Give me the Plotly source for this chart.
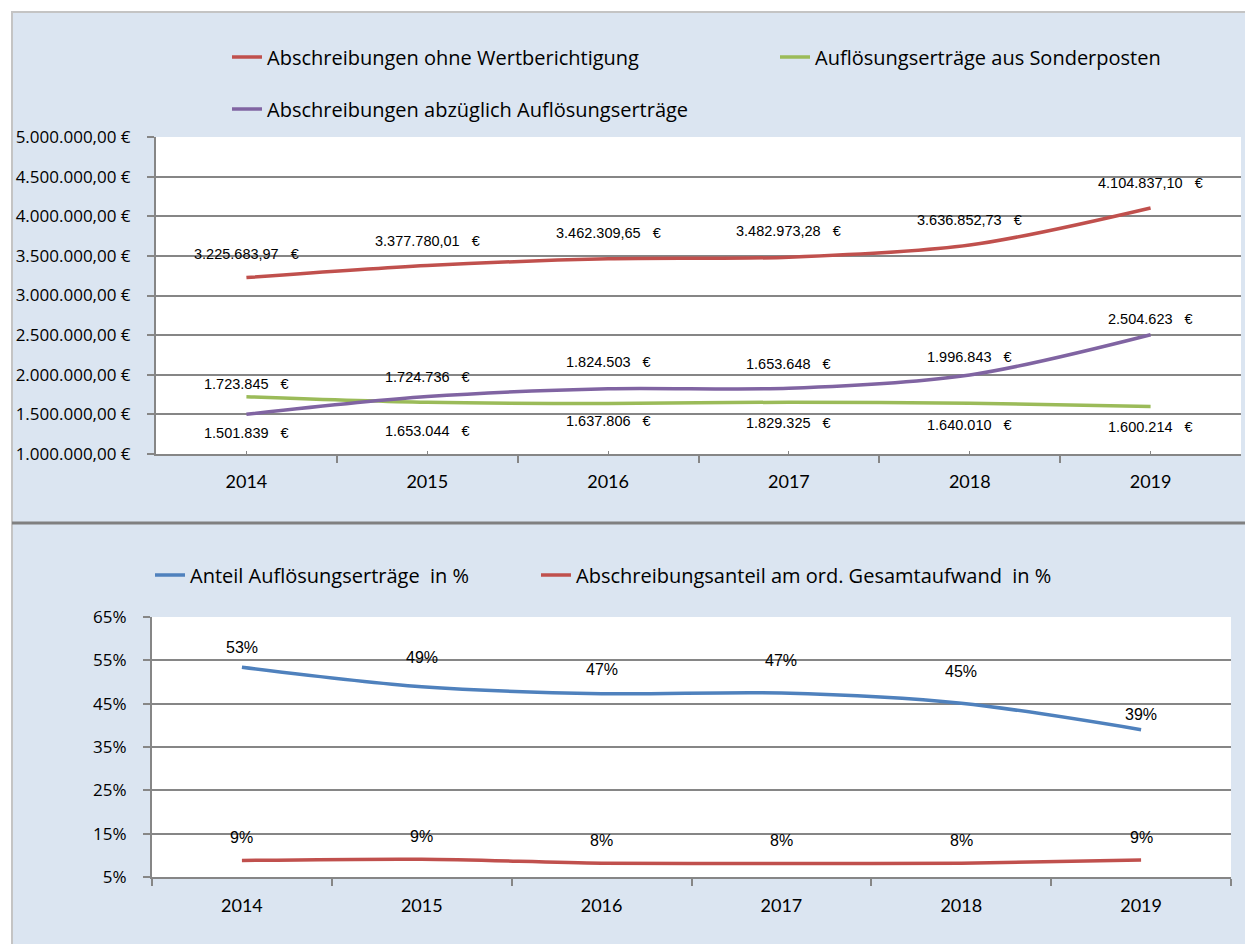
import plotly.graph_objects as go

# ---------------- data ----------------
years = ["2014", "2015", "2016", "2017", "2018", "2019"]

abschreibungen = [3225683.97, 3377780.01, 3462309.65, 3482973.28, 3636852.73, 4104837.10]
aufloesung = [1723845, 1653044, 1637806, 1653648, 1640010, 1600214]
abzueglich = [1501839, 1724736, 1824503, 1829325, 1996843, 2504623]

anteil_aufloesung = [53.4, 48.9, 47.3, 47.45, 45.1, 39.0]
anteil_abschreibung = [8.8, 9.1, 8.2, 8.1, 8.2, 8.9]

names_top = ["Abschreibungen ohne Wertberichtigung",
             "Auflösungserträge aus Sonderposten",
             "Abschreibungen abzüglich Auflösungserträge"]
names_bottom = ["Anteil Auflösungserträge  in %",
                "Abschreibungsanteil am ord. Gesamtaufwand  in %"]

# ---------------- styles ----------------
W, H = 1253, 944
OFF = 8  # page body margin
RED, GREEN, PURPLE, BLUE = "#C0504D", "#9BBB59", "#8064A2", "#4F81BD"
BG = "#DBE5F1"
GRID = "#868686"
TICKFONT = "Open Sans"
XFONT = "Lato"
LBLFONT = "Liberation Sans"


def px(sx):
    return (sx - OFF) / W


def py(sy):
    return 1 - (sy - OFF) / H


# label vertical offsets (px) as placed in the reference
off_red = [24, 25, 26, 26, 25, 25]
off_green = [13, -29, -18, 38, -22, -21]
off_purple = [-19, 20, 27, -35, 18, 16]
off_blue = [20, 29, 24, 33, 32, 15]
off_red2 = [23, 23, 23, 23, 23, 23]

NB = "\u00a0"


def de_num(v, dec):
    s = f"{v:,.{dec}f}"
    return s.replace(",", "#").replace(".", ",").replace("#", ".")


xs = list(range(len(years)))

fig = go.Figure()

line_w = 3.5
sm = 0.9
fig.add_trace(go.Scatter(x=xs, y=abschreibungen, name=names_top[0], mode="lines",
                         line=dict(color=RED, width=line_w, shape="spline", smoothing=sm),
                         xaxis="x", yaxis="y", legend="legend"))
fig.add_trace(go.Scatter(x=xs, y=aufloesung, name=names_top[1], mode="lines",
                         line=dict(color=GREEN, width=line_w, shape="spline", smoothing=sm),
                         xaxis="x", yaxis="y", legend="legend2"))
fig.add_trace(go.Scatter(x=xs, y=abzueglich, name=names_top[2], mode="lines",
                         line=dict(color=PURPLE, width=line_w, shape="spline", smoothing=sm),
                         xaxis="x", yaxis="y", legend="legend3"))

fig.add_trace(go.Scatter(x=xs, y=anteil_aufloesung, name=names_bottom[0], mode="lines",
                         line=dict(color=BLUE, width=line_w, shape="spline", smoothing=sm),
                         xaxis="x2", yaxis="y2", legend="legend4"))
fig.add_trace(go.Scatter(x=xs, y=anteil_abschreibung, name=names_bottom[1], mode="lines",
                         line=dict(color=RED, width=line_w, shape="spline", smoothing=sm),
                         xaxis="x2", yaxis="y2", legend="legend5"))

annotations = []
lblfont_top = dict(family=LBLFONT, size=14.5, color="#000000")
lblfont_bot = dict(family=LBLFONT, size=16, color="#000000")
for i in xs:
    annotations.append(dict(x=i, y=abschreibungen[i], xref="x", yref="y",
                            text=de_num(abschreibungen[i], 2) + NB * 3 + "€",
                            showarrow=False, yshift=off_red[i], font=lblfont_top))
    annotations.append(dict(x=i, y=aufloesung[i], xref="x", yref="y",
                            text=de_num(aufloesung[i], 0) + NB * 3 + "€",
                            showarrow=False, yshift=off_green[i], font=lblfont_top))
    annotations.append(dict(x=i, y=abzueglich[i], xref="x", yref="y",
                            text=de_num(abzueglich[i], 0) + NB * 3 + "€",
                            showarrow=False, yshift=off_purple[i], font=lblfont_top))
    annotations.append(dict(x=i, y=anteil_aufloesung[i], xref="x2", yref="y2",
                            text=f"{round(anteil_aufloesung[i]):d}%",
                            showarrow=False, yshift=off_blue[i], font=lblfont_bot))
    annotations.append(dict(x=i, y=anteil_abschreibung[i], xref="x2", yref="y2",
                            text=f"{round(anteil_abschreibung[i]):d}%",
                            showarrow=False, yshift=off_red2[i], font=lblfont_bot))

# frame shapes
shapes = [
    dict(type="rect", xref="paper", yref="paper", x0=0, x1=1, y0=py(11), y1=1,
         fillcolor="white", line=dict(width=0), layer="above"),
    dict(type="rect", xref="paper", yref="paper", x0=0, x1=px(11), y0=0, y1=1,
         fillcolor="white", line=dict(width=0), layer="above"),
    dict(type="line", xref="paper", yref="paper", x0=px(12), x1=px(12), y0=0, y1=py(11),
         line=dict(color="#C4C4C4", width=2), layer="above"),
    dict(type="line", xref="paper", yref="paper", x0=px(11), x1=1, y0=py(12), y1=py(12),
         line=dict(color="#C4C4C4", width=2), layer="above"),
    dict(type="line", xref="paper", yref="paper", x0=px(12), x1=1, y0=py(523), y1=py(523),
         line=dict(color="#808080", width=3), layer="above"),
]

xaxis_common = dict(
    tickmode="array", tickvals=xs, ticktext=years, range=[-0.5, 5.5],
    showgrid=False, zeroline=False, showline=True, linecolor=GRID, linewidth=2,
    tickfont=dict(family=XFONT, size=18, color="#000000"), automargin=False,
    minor=dict(tick0=-0.5, dtick=1, ticks="outside", ticklen=7, tickwidth=2, tickcolor=GRID),
    fixedrange=True,
)
yaxis_common = dict(
    showgrid=True, gridcolor=GRID, gridwidth=1.5, zeroline=False,
    showline=True, linecolor=GRID, linewidth=2, ticks="outside", ticklen=7,
    tickwidth=2, tickcolor=GRID, ticklabelstandoff=13, automargin=False,
    tickfont=dict(family=TICKFONT, size=17, color="#000000"), fixedrange=True,
)

legfont = dict(family=TICKFONT, size=20, color="#000000")


def leg(sx, sy):
    return dict(orientation="h", x=px(sx), xanchor="left", y=py(sy), yanchor="middle",
                bgcolor="rgba(0,0,0,0)", borderwidth=0, font=legfont)


fig.update_layout(
    width=W, height=H, autosize=False,
    margin=dict(l=0, r=0, t=0, b=0, autoexpand=False),
    paper_bgcolor=BG, plot_bgcolor="white",
    separators=",.",
    showlegend=True,
    xaxis=dict(domain=[px(156), px(1241)], anchor="y", ticks="inside", ticklen=3, tickwidth=1,
               tickcolor=GRID, ticklabelstandoff=10, **xaxis_common),
    yaxis=dict(domain=[py(454), py(137)], anchor="x", range=[1000000, 5000000],
               tickmode="linear", tick0=1000000, dtick=500000, tickformat=",.2f", ticksuffix=" €",
               **yaxis_common),
    xaxis2=dict(domain=[px(152), px(1231)], anchor="y2", ticks="", ticklabelstandoff=11,
                **xaxis_common),
    yaxis2=dict(domain=[py(877), py(617)], anchor="x2", range=[5, 65],
                tickmode="linear", tick0=5, dtick=10, ticksuffix="%", **yaxis_common),
    legend=leg(227, 57),
    legend2=leg(775, 57),
    legend3=leg(227, 109),
    legend4=leg(150, 575),
    legend5=leg(536, 575),
    annotations=annotations,
    shapes=shapes,
)

fig.write_html("out.html")
